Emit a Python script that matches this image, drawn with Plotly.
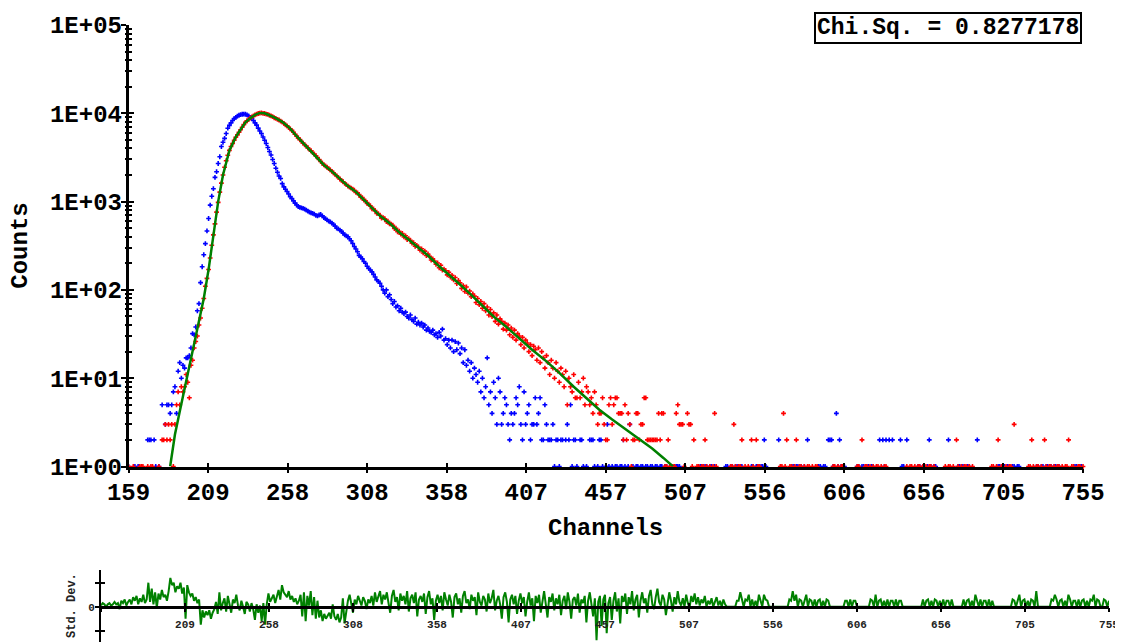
import plotly.graph_objects as go

FIRST_CHANNEL = 159

# measured decay (red), counts per channel starting at channel 159
decay_counts = [
    1,0,0,1,0,0,0,1,1,1,
    0,0,1,0,1,1,0,0,0,1,
    0,2,2,3,2,3,2,3,1,3,
    5,7,5,8,7,8,11,9,6,14,
    16,22,26,30,40,48,62,80,110,135,
    170,230,320,420,560,760,980,1280,1620,2000,
    2450,2900,3350,3800,4200,4550,4950,5350,5700,6100,
    6500,6950,7450,7900,8200,8550,8800,9100,9350,9600,
    9800,9950,10050,10100,10000,9950,9800,9700,9500,9350,
    9150,8900,8750,8550,8400,8150,7950,7700,7400,7200,
    6900,6650,6400,6100,5800,5500,5250,5050,4800,4600,
    4400,4250,4050,3900,3750,3600,3450,3300,3150,3000,
    2850,2720,2600,2530,2450,2360,2290,2200,2120,2030,
    1960,1880,1800,1740,1680,1610,1560,1500,1460,1420,
    1380,1345,1270,1255,1200,1125,1110,1040,1020,950,
    935,895,830,825,790,735,730,700,650,660,
    640,595,600,560,555,540,495,500,455,462,
    428,435,398,410,372,380,365,338,342,312,
    320,305,282,292,262,275,245,255,240,218,
    225,212,195,202,178,190,168,172,165,148,
    158,140,146,130,138,118,128,120,104,112,
    96,108,92,97,84,90,85,72,80,68,
    74,62,70,58,64,52,60,50,55,44,
    52,41,47,44,36,42,35,40,31,37,
    29,35,27,32,30,24,29,22,27,25,
    20,24,18,23,21,16,22,15,20,17,
    13,18,15,11,16,13,10,15,12,9,
    13,11,8,12,5,10,8,7,11,6,
    6,9,6,7,10,5,8,7,5,6,
    4,7,5,3,4,4,6,3,2,2,
    5,6,3,5,6,6,4,4,4,2,
    5,2,4,3,1,2,2,4,4,2,
    3,3,6,6,2,2,2,2,2,2,
    2,4,2,4,4,1,1,2,1,0,
    1,1,4,5,3,3,3,1,0,4,
    3,3,1,2,0,1,1,0,1,1,
    2,1,0,1,0,1,4,1,0,0,
    0,0,0,0,0,0,1,1,3,1,
    0,1,1,2,0,1,0,1,0,2,
    1,0,2,1,1,0,0,0,0,0,
    0,0,0,0,0,0,0,1,1,4,
    1,2,0,1,1,0,1,2,0,1,
    1,0,1,0,1,1,0,1,0,1,
    1,0,0,0,0,0,0,0,0,0,
    1,1,0,1,0,1,1,0,0,0,
    0,0,0,0,0,1,1,0,2,0,
    1,1,0,1,0,1,0,1,1,0,
    1,0,1,1,0,0,0,0,0,0,
    0,0,0,0,0,0,1,0,1,1,
    0,1,0,1,1,0,1,0,1,0,
    1,1,0,1,0,0,0,0,0,0,
    1,0,1,1,0,1,0,2,1,0,
    1,0,1,1,0,1,0,1,0,0,
    0,0,0,0,0,0,0,0,0,1,
    1,0,1,2,0,1,1,0,1,0,
    1,1,0,3,0,0,0,0,0,0,
    0,0,1,1,2,1,0,1,1,0,
    1,0,2,1,0,1,1,0,1,0,
    1,1,0,1,0,1,1,2,0,1,
    1,0,0,1,1,0,1,
]

# instrument response (blue), counts per channel starting at channel 159
irf_counts = [
    1,0,0,0,1,0,1,0,0,0,
    0,0,2,2,2,0,2,1,0,1,
    0,5,0,3,5,5,4,5,7,8,
    4,12,15,10,14,13,17,17,18,22,
    32,31,38,58,70,121,183,250,334,465,
    644,912,1150,1400,1880,2180,2700,3220,4200,4700,
    5200,5900,6780,7300,7800,8300,8700,9000,9300,9500,
    9650,9750,9800,9750,9600,9350,9000,8800,8300,7800,
    7350,6800,6300,5900,5400,4950,4550,4100,3700,3370,
    3000,2700,2390,2150,1950,1830,1600,1470,1380,1300,
    1220,1140,1080,1020,960,915,880,860,850,840,
    820,800,780,760,745,735,720,700,690,705,
    715,690,660,640,620,600,590,570,550,530,
    500,490,475,460,440,420,410,400,380,360,
    335,310,290,270,246,235,225,210,200,185,
    175,168,160,150,140,130,125,119,110,100,
    92,100,84,88,78,70,74,64,66,58,
    62,56,54,56,50,48,52,46,44,48,
    41,43,40,42,38,40,35,37,34,33,
    35,31,32,29,33,30,36,27,28,24,
    27,22,27,20,26,21,25,19,22,15,
    21,14,16,12,15,10,13,11,9,12,
    7,10,6,8,17,5,7,4,9,6,
    3,10,7,3,4,6,5,3,2,4,
    3,4,6,5,8,3,2,7,3,4,
    5,2,3,3,6,3,4,6,2,2,
    5,3,2,2,2,3,1,2,2,1,
    2,2,0,2,3,2,5,1,2,2,
    1,0,2,2,1,0,1,0,2,2,
    2,1,0,1,2,2,1,0,1,3,
    1,0,1,0,1,1,0,1,1,2,
    1,0,1,3,0,1,0,1,1,0,
    1,1,0,1,1,0,1,1,0,1,
    1,0,1,1,0,1,1,0,0,0,
    0,1,1,1,1,0,0,0,0,0,
    0,0,0,0,0,0,0,1,1,0,
    1,1,0,1,1,0,1,0,0,0,
    0,0,0,1,1,0,1,1,0,1,
    1,0,1,1,0,0,0,0,0,1,
    1,0,1,1,0,1,1,2,1,0,
    0,0,0,0,0,0,2,0,0,0,
    0,0,0,0,1,1,0,1,1,0,
    1,0,1,0,2,0,0,0,0,0,
    0,1,1,0,1,1,0,2,2,2,
    1,0,4,1,2,1,0,1,0,0,
    0,0,0,0,0,1,1,0,1,1,
    0,1,1,0,1,1,0,0,0,2,
    0,2,1,2,0,2,0,2,0,0,
    0,0,2,1,1,0,2,0,0,0,
    0,0,0,1,1,0,1,1,0,1,
    2,1,0,1,1,0,0,0,0,0,
    0,0,2,0,0,0,0,0,1,1,
    0,1,1,0,1,1,0,0,0,0,
    2,0,0,0,0,0,0,0,0,0,
    0,0,0,1,1,0,1,1,0,1,
    1,0,1,1,0,1,1,0,0,0,
    0,0,0,0,0,0,0,1,1,0,
    1,1,0,1,1,0,1,0,1,1,
    0,1,0,0,0,0,0,0,0,0,
    0,1,1,0,1,1,0,
]

# fitted curve (green) read at these channels
fit_channels = [185,188,191,194,197,200,203,206,209,212,215,218,222,226,229,232,235,238,241,244,
                247,250,255,260,264,268,272,276,281,286,291,296,301,306,311,316,322,328,334,340,
                346,353,360,366,373,380,387,395,403,411,420,428,437,445,453,461,470,478,486,493,499]
fit_counts = [1,2.3,4.2,7.5,13,24,42,80,170,430,1000,2000,3800,5400,6600,7900,8800,9600,10100,10000,
              9500,9000,8000,6700,5500,4600,3900,3300,2600,2200,1800,1500,1290,1050,850,690,570,450,370,300,
              245,185,145,115,88,66,50,38,28,21,15.5,11.5,8,5.9,4.4,3.4,2.6,2.0,1.6,1.25,1.0]

# weighted residuals (std. dev.) per channel starting at channel 159
residuals = [
    0.1,0.3,0.2,0.0,0.2,0.3,0.1,0.2,0.4,0.2,
    0.3,-0.2,0.5,0.3,0.6,0.1,0.4,0.6,0.2,0.8,
    0.5,0.9,0.2,0.7,0.4,1.0,0.3,0.6,2.0,0.4,
    1.5,0.2,1.2,-0.1,1.1,0.6,1.4,0.8,1.0,0.5,
    1.3,2.4,1.8,2.0,1.2,1.7,1.5,2.0,1.1,1.6,
    -1.0,1.8,1.2,0.9,1.1,0.5,0.8,0.3,0.6,-1.5,
    -0.3,-0.9,-0.4,-0.7,-0.3,-1.0,-0.5,-0.2,0.4,-0.6,
    1.2,-0.3,0.3,0.7,-0.4,0.9,0.2,-0.5,0.6,0.3,
    1.0,0.1,-0.3,0.5,0.0,-0.6,0.4,0.2,-0.4,0.3,
    -0.2,-1.1,0.2,-0.5,0.1,-1.2,0.3,-1.5,0.2,1.1,
    0.4,0.7,1.0,0.3,0.9,1.4,0.6,1.8,1.2,1.0,
    0.8,1.3,0.6,0.9,0.4,0.7,0.2,0.5,1.0,-0.8,
    1.2,-1.2,0.9,0.1,1.3,-0.7,0.8,-1.0,0.5,-0.9,
    -0.3,-1.2,-0.6,-1.0,-0.7,-0.5,-1.0,0.2,-0.8,-1.1,
    -0.6,-1.3,-0.9,0.7,-1.4,-0.2,0.5,1.0,0.3,-0.5,
    0.6,0.2,0.9,0.4,0.1,0.8,0.5,-0.2,0.6,0.3,
    0.9,0.1,1.2,0.4,0.8,1.3,0.2,1.0,0.6,1.2,
    0.3,-0.5,0.9,1.4,0.4,0.8,-0.3,1.1,0.5,0.9,
    0.2,1.3,-0.4,0.7,1.0,0.3,1.2,-0.8,0.6,0.9,
    0.4,1.1,-0.6,0.8,1.3,0.2,0.7,-1.1,0.5,1.0,
    0.3,0.9,-0.3,1.2,0.6,0.1,1.0,0.4,-0.9,0.8,
    1.1,0.2,0.7,-0.5,0.9,1.3,0.3,0.6,-0.2,1.0,
    0.5,0.8,-0.7,1.2,0.4,0.1,0.9,0.6,-0.4,1.1,
    0.3,0.7,1.4,-0.3,0.5,0.9,0.2,-1.0,0.8,1.2,
    0.4,-1.3,0.6,1.0,0.2,0.9,-0.6,0.5,1.1,0.3,
    0.8,-0.8,0.4,1.2,0.1,0.7,-1.2,0.9,0.3,1.0,
    -0.5,0.6,1.3,0.2,-0.9,0.8,0.4,1.1,-0.3,0.7,
    0.2,1.0,-0.7,0.5,0.9,-0.2,1.2,0.4,-1.0,0.6,
    0.8,0.1,1.1,-0.5,0.6,0.3,0.9,-1.3,0.5,1.2,
    0.2,-0.8,0.7,-2.8,0.4,0.9,-1.6,0.6,1.0,-2.2,
    0.3,0.8,-1.1,0.5,1.2,-0.4,0.7,-1.4,0.9,0.4,
    1.1,-0.6,0.8,0.2,1.3,-0.3,0.6,1.0,-0.9,0.5,
    1.2,0.3,0.7,-0.5,0.9,1.4,0.2,-0.2,0.8,1.5,
    0.4,0.1,1.0,0.6,-0.7,0.3,1.2,0.5,-0.4,0.8,
    0.2,1.3,0.4,0.1,0.7,0.0,1.0,0.3,-0.1,0.9,
    0.4,1.1,0.2,0.8,0.1,0.6,0.3,0.9,0.0,0.5,
    0.2,0.7,0.0,0.4,0.8,0.1,0.5,0.0,0.6,0.2,
    0,0,0,0,0,0,0.5,0.5,1.2,0.5,
    0,0.6,0.5,1.0,0,0.6,0,0.5,0,1.0,
    0.5,0,1.0,0.6,0.5,0,0,0,0,0,
    0,0,0,0,0,0,0,0.6,0.5,1.3,
    0.5,1.0,0,0.6,0.5,0,0.5,1.0,0,0.6,
    0.5,0,0.6,0,0.5,0.6,0,0.5,0,0.6,
    0.5,0,0,0,0,0,0,0,0,0,
    0.5,0.5,0,0.6,0,0.5,0.5,0,0,0,
    0,0,0,0,0,0.6,0.5,0,1.0,0,
    0.5,0.6,0,0.5,0,0.6,0,0.5,0.5,0,
    0.6,0,0.5,0.5,0,0,0,0,0,0,
    0,0,0,0,0,0,0.6,0,0.5,0.6,
    0,0.5,0,0.6,0.5,0,0.5,0,0.6,0,
    0.5,0.5,0,0.6,0,0,0,0,0,0,
    0.6,0,0.5,0.6,0,0.5,0,1.0,0.5,0,
    0.6,0,0.5,0.5,0,0.6,0,0.5,0,0,
    0,0,0,0,0,0,0,0,0,0.6,
    0.5,0,0.6,1.0,0,0.5,0.6,0,0.5,0,
    0.6,0.5,0,1.3,0,0,0,0,0,0,
    0,0,0.6,0.5,1.0,0.6,0,0.5,0.6,0,
    0.5,0,1.0,0.6,0,0.5,0.5,0,0.6,0,
    0.5,0.6,0,0.5,0,0.6,0.5,1.0,0,0.6,
    0.5,0,0,0.6,0.5,0,0.5,
]

x_tick_vals = [159, 208.67, 258.33, 308, 357.67, 407.33, 457, 506.67, 556.33, 606, 655.67, 705.33, 755]
x_tick_text = ["159", "209", "258", "308", "358", "407", "457", "507", "556", "606", "656", "705", "755"]
res_x_tick_text = ["", "209", "258", "308", "358", "407", "457", "507", "556", "606", "656", "705", "755"]
y_tick_vals = [1, 10, 100, 1000, 10000, 100000]
y_tick_text = ["1E+00", "1E+01", "1E+02", "1E+03", "1E+04", "1E+05"]
y_minor_vals = [m * 10 ** e for e in range(5) for m in range(2, 10)]
res_tick_vals = [-2, 0, 2]
res_tick_text = ["", "0", ""]
chi_sq_text = "Chi.Sq. = 0.8277178"

PAGE_OFFSET = 8  # the page body margin shifts the figure by this many pixels
W, H = 1123 - PAGE_OFFSET, 642 - PAGE_OFFSET
FONT = "Liberation Mono"


def fx(p):
    return (p - PAGE_OFFSET) / W


def fy(p):
    return 1 - (p - PAGE_OFFSET) / H


def points(vals):
    xs, ys = [], []
    for i, v in enumerate(vals):
        if v > 0:
            xs.append(FIRST_CHANNEL + i)
            ys.append(v)
    return xs, ys


bx, by = points(irf_counts)
rx, ry = points(decay_counts)
res_x = [FIRST_CHANNEL + i for i in range(len(residuals))]

fig = go.Figure()
fig.add_trace(go.Scatter(x=bx, y=by, mode="markers", cliponaxis=False,
                         marker=dict(symbol="cross", size=4, color="#0000ff", line=dict(width=0)),
                         xaxis="x", yaxis="y", hoverinfo="skip"))
fig.add_trace(go.Scatter(x=rx, y=ry, mode="markers", cliponaxis=False,
                         marker=dict(symbol="cross", size=4, color="#ff0000", line=dict(width=0)),
                         xaxis="x", yaxis="y", hoverinfo="skip"))
fig.add_trace(go.Scatter(x=fit_channels, y=fit_counts, mode="lines",
                         line=dict(color="#008000", width=2.5), xaxis="x", yaxis="y", hoverinfo="skip"))
fig.add_trace(go.Scatter(x=res_x, y=residuals, mode="lines",
                         line=dict(color="#008000", width=2), xaxis="x2", yaxis="y2",
                         hoverinfo="skip"))

# invisible anchors so that the overlay axes (used for crossing ticks) are drawn
for xa, ya, yv in [("x3", "y", 10), ("x", "y3", 10), ("x", "y4", 10), ("x", "y5", 10),
                   ("x4", "y2", 0), ("x2", "y6", 0)]:
    fig.add_trace(go.Scatter(x=[400], y=[yv], mode="markers", marker=dict(opacity=0),
                             xaxis=xa, yaxis=ya, hoverinfo="skip"))

main_xdom = [fx(128.5), fx(1083)]
main_ydom = [fy(466.5), fy(25)]
res_xdom = [fx(101), fx(1109)]
res_ydom = [0, fy(570)]
res_zero_pos = fy(606.7)
res_range = [-2.94, 3.06]

big_font = dict(family=FONT, size=24, color="black", weight="bold")
small_font = dict(family=FONT, size=11, color="#222222", weight="bold")

common = dict(showgrid=False, zeroline=False, fixedrange=True, automargin=False)

fig.update_layout(
    width=W, height=H, margin=dict(l=0, r=0, t=0, b=0, autoexpand=False),
    paper_bgcolor="white", plot_bgcolor="white", showlegend=False,
    xaxis=dict(domain=main_xdom, range=[159, 755], anchor="y", showline=True, linecolor="black",
               linewidth=2.5, ticks="outside", ticklen=4, tickwidth=2, tickcolor="black",
               tickmode="array", tickvals=x_tick_vals, ticktext=x_tick_text, tickfont=big_font,
               ticklabelstandoff=-2, **common),
    xaxis3=dict(domain=main_xdom, range=[159, 755], anchor="y", overlaying="x", side="bottom",
                showline=False, ticks="inside", ticklen=4, tickwidth=2, tickcolor="black",
                tickmode="array", tickvals=x_tick_vals, showticklabels=False, **common),
    yaxis=dict(domain=main_ydom, type="log", range=[0, 5], anchor="x", showline=True,
               linecolor="black", linewidth=2.5, ticks="outside", ticklen=5, tickwidth=2,
               tickcolor="black", tickmode="array", tickvals=y_tick_vals, ticktext=y_tick_text,
               tickfont=big_font, ticklabelstandoff=-6, **common),
    yaxis3=dict(domain=main_ydom, type="log", range=[0, 5], anchor="x", overlaying="y", side="left",
                showline=False, ticks="inside", ticklen=5, tickwidth=2, tickcolor="black",
                tickmode="array", tickvals=y_tick_vals, showticklabels=False, **common),
    yaxis4=dict(domain=main_ydom, type="log", range=[0, 5], anchor="x", overlaying="y", side="left",
                showline=False, ticks="outside", ticklen=3, tickwidth=1.5, tickcolor="black",
                tickmode="array", tickvals=y_minor_vals, showticklabels=False, **common),
    yaxis5=dict(domain=main_ydom, type="log", range=[0, 5], anchor="x", overlaying="y", side="left",
                showline=False, ticks="inside", ticklen=3, tickwidth=1.5, tickcolor="black",
                tickmode="array", tickvals=y_minor_vals, showticklabels=False, **common),
    xaxis2=dict(domain=res_xdom, range=[159, 755], anchor="free", position=res_zero_pos,
                showline=True, linecolor="black", linewidth=2.5, ticks="outside", ticklen=4,
                tickwidth=2, tickcolor="black", tickmode="array", tickvals=x_tick_vals,
                ticktext=res_x_tick_text, tickfont=small_font, ticklabelstandoff=2, **common),
    xaxis4=dict(domain=res_xdom, range=[159, 755], anchor="free", position=res_zero_pos,
                overlaying="x2", side="bottom", showline=False, ticks="inside", ticklen=4,
                tickwidth=2, tickcolor="black", tickmode="array", tickvals=x_tick_vals,
                showticklabels=False, **common),
    yaxis2=dict(domain=res_ydom, range=res_range, anchor="x2", showline=True,
                linecolor="black", linewidth=2, ticks="outside", ticklen=4, tickwidth=2,
                tickcolor="black", tickmode="array", tickvals=res_tick_vals, ticktext=res_tick_text,
                tickfont=small_font, ticklabelstandoff=-2, **common),
    yaxis6=dict(domain=res_ydom, range=res_range, anchor="x2", overlaying="y2", side="left",
                showline=False, ticks="inside", ticklen=4, tickwidth=2, tickcolor="black",
                tickmode="array", tickvals=res_tick_vals, showticklabels=False, **common),
    annotations=[
        dict(text=chi_sq_text, x=fx(1082), y=fy(12), xref="paper", yref="paper",
             xanchor="right", yanchor="top", showarrow=False,
             font=dict(family=FONT, size=23, color="black", weight="bold"),
             bordercolor="black", borderwidth=2, borderpad=1, bgcolor="white"),
        dict(text="Channels", x=fx(605.75), y=fy(528), xref="paper", yref="paper",
             xanchor="center", yanchor="middle", showarrow=False, font=big_font),
        dict(text="Counts", x=fx(21), y=fy(245.7), xref="paper", yref="paper",
             xanchor="center", yanchor="middle", showarrow=False, textangle=-90, font=big_font),
        dict(text="Std. Dev.", x=fx(72), y=fy(606), xref="paper", yref="paper",
             xanchor="center", yanchor="middle", showarrow=False, textangle=-90,
             font=dict(family=FONT, size=12, color="#222222", weight="bold")),
    ],
)

fig.write_html("out.html")
